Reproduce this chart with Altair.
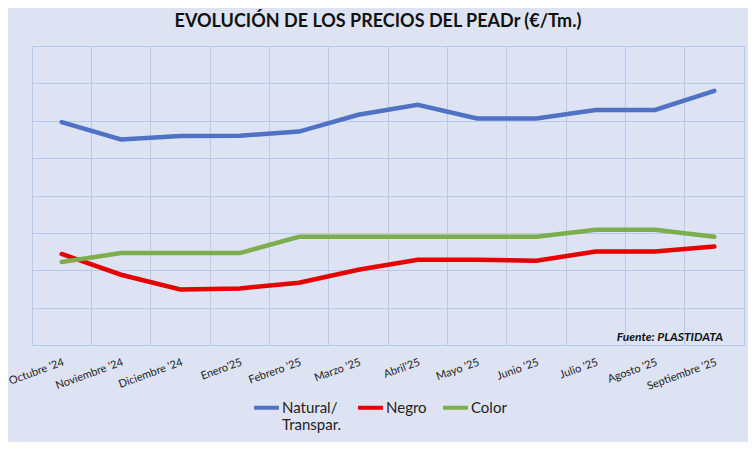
import altair as alt
import pandas as pd

meses = ["Octubre '24", "Noviembre '24", "Diciembre '24", "Enero'25", "Febrero '25", "Marzo '25",
         "Abril'25", "Mayo '25", "Junio '25", "Julio '25", "Agosto '25", "Septiembre '25"]
series = ["Natural/ Transpar.", "Negro", "Color"]
natural = [1193, 1100, 1118, 1120, 1142, 1232, 1285, 1212, 1212, 1258, 1258, 1360]
negro = [487, 376, 297, 303, 333, 403, 456, 456, 451, 500, 500, 527]
color = [444, 492, 492, 492, 579, 579, 579, 579, 579, 617, 617, 579]
colores = ["#4f72c4", "#e60000", "#7cae4d"]

rows = []
for name, vals in zip(series, [natural, negro, color]):
    for m, v in zip(meses, vals):
        rows.append({"mes": m, "serie": name, "precio": v})
df = pd.DataFrame(rows)

W, H = 712, 299
FONT = "Lato"

lines = alt.Chart(df).mark_line(strokeWidth=4.5, strokeCap="round").encode(
    x=alt.X("mes:N", sort=meses,
            scale=alt.Scale(type="band", paddingInner=0, paddingOuter=0),
            axis=alt.Axis(title=None, bandPosition=0, labelAngle=-20,
                          labelAlign="right", labelBaseline="top", labelPadding=11,
                          labelFontSize=11, labelFont=FONT, labelColor="#222222",
                          domain=False, ticks=False, grid=True, gridColor="#b9c9ea",
                          gridWidth=1, labelOverlap=False)),
    y=alt.Y("precio:Q", scale=alt.Scale(domain=[0, 1600]),
            axis=alt.Axis(title=None, values=list(range(0, 1601, 200)), labels=False,
                          ticks=False, domain=False, grid=True, gridColor="#b9c9ea",
                          gridWidth=1)),
    color=alt.Color("serie:N", sort=series,
                    scale=alt.Scale(domain=series, range=colores),
                    legend=alt.Legend(title=None, orient="none", legendX=220, legendY=347,
                                      direction="horizontal", symbolType="stroke",
                                      symbolStrokeWidth=4, symbolSize=620,
                                      labelFontSize=15, labelFont=FONT, labelColor="#222222",
                                      columnPadding=8, labelOffset=1,
                                      labelExpr="datum.label == 'Natural/ Transpar.' ? ['Natural/', 'Transpar.'] : [datum.label, ' ']")),
)

fuente = alt.Chart(pd.DataFrame({"t": ["Fuente: PLASTIDATA"]})).mark_text(
    align="right", baseline="middle", fontStyle="italic", fontWeight="bold",
    fontSize=12, font=FONT, color="#111111"
).encode(text="t:N", x=alt.value(W - 21), y=alt.value(H - 8))

chart = alt.layer(lines, fuente).properties(
    width=W, height=H,
    autosize=alt.AutoSizeParams(type="none"),
    padding={"left": 24, "top": 38, "right": 4, "bottom": 97},
    background="#dde3f3",
    title=alt.TitleParams("EVOLUCIÓN DE LOS PRECIOS DEL PEADr (€/Tm.)", fontSize=18,
                          font=FONT, fontWeight="bold", color="#111111", anchor="middle",
                          dx=-10, offset=15),
).configure_view(stroke="#b9c9ea", strokeWidth=1)

chart.save("out.html", embed_options={"renderer": "svg", "actions": False})
